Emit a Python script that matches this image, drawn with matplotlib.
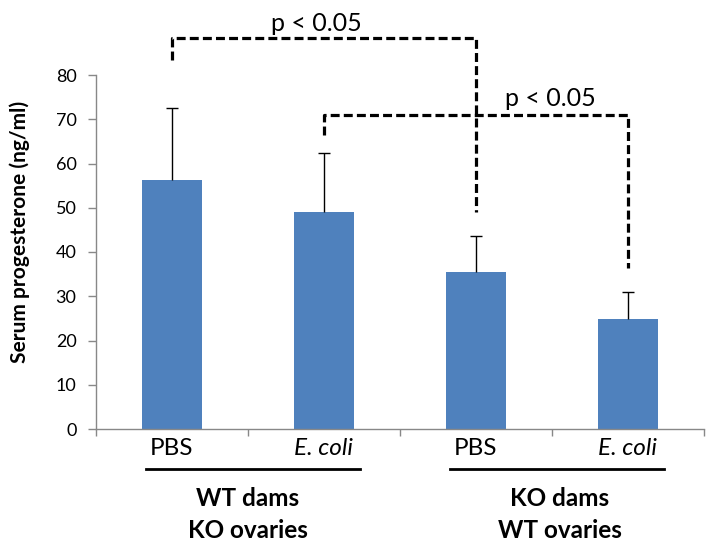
import matplotlib
matplotlib.use("Agg")
import matplotlib.pyplot as plt
import numpy as np

plt.rcParams['font.family'] = ['Lato', 'DejaVu Sans']

categories = ["PBS", "E. coli", "PBS", "E. coli"]
italic_flags = [False, True, False, True]
means = [56.3, 49.0, 35.5, 24.9]
errors_up = [16.2, 13.4, 8.1, 6.1]
groups = ["WT dams\nKO ovaries", "KO dams\nWT ovaries"]
group_members = [(0, 1), (2, 3)]
yticks = [0, 10, 20, 30, 40, 50, 60, 70, 80]
ylabel = "Serum progesterone (ng/ml)"

# significance brackets
brackets_left = [0, 1]
brackets_right = [2, 3]
brackets_top = [88.4, 71.0]
brackets_left_bottom = [83.4, 66.4]
brackets_right_bottom = [49.0, 36.4]
brackets_text = ["p < 0.05", "p < 0.05"]
brackets_text_x = [0.95, 2.49]
brackets_text_y = [91.6, 74.6]

W, H = 714, 548
fig = plt.figure(figsize=(W / 100, H / 100), dpi=100)
ax = fig.add_axes([96 / W, 1 - 429 / H, (704 - 96) / W, (429 - 75) / H])

x = np.arange(len(means))
ax.bar(x, means, width=0.39, color="#4F81BD", zorder=2)
tops = np.array(means) + np.array(errors_up)
ax.vlines(x, means, tops, color="black", lw=1.0, zorder=3)
ax.plot(x, tops, ls="none", marker="_", ms=8, mew=1.0, color="black", zorder=3)

ax.set_xlim(-0.5, 3.5)
ax.set_ylim(0, 80)
ax.set_yticks(yticks)
ax.set_yticklabels([str(v) for v in yticks], fontsize=13)
ax.set_xticks(np.arange(-0.5, 3.6, 1.0))
ax.set_xticklabels([])
ax.tick_params(axis="y", direction="out", length=6, color="#888888", width=1, pad=8)
ax.tick_params(axis="x", direction="out", length=5, color="#888888", width=1)
for s in ["top", "right"]:
    ax.spines[s].set_visible(False)
for s in ["left", "bottom"]:
    ax.spines[s].set_color("#888888")
    ax.spines[s].set_linewidth(1)

# category labels
for i, (c, it) in enumerate(zip(categories, italic_flags)):
    ax.text(i, -4.5, c, ha="center", va="center", fontsize=17.5,
            style="italic" if it else "normal")

# group underline and labels
for (a, b), g in zip(group_members, groups):
    ax.plot([a - 0.17, b + 0.24], [-9.0, -9.0], color="black", lw=2,
            clip_on=False)
    lines = g.split("\n")
    cx = (a + b) / 2 + 0.05 * (a // 2)
    ax.text(cx, -15.7, lines[0], ha="center", va="center", fontsize=17.5,
            fontweight="bold")
    ax.text(cx, -23.0, lines[1], ha="center", va="center", fontsize=17.5,
            fontweight="bold")

# brackets
for l, r, top, lb, rb, t, tx, ty in zip(brackets_left, brackets_right, brackets_top,
                                         brackets_left_bottom, brackets_right_bottom,
                                         brackets_text, brackets_text_x, brackets_text_y):
    ln, = ax.plot([l, l, r, r], [lb, top, top, rb], color="black", lw=2.3,
                  clip_on=False, zorder=4)
    ln.set_dashes((2.8, 1.3))
    ax.text(tx, ty, t, ha="center", va="center", fontsize=18, clip_on=False)

fig.text(20 / W, 1 - 232 / H, ylabel, rotation=90, ha="center", va="center",
         fontsize=15, fontweight="bold")

fig.savefig("out.png", dpi=100)
